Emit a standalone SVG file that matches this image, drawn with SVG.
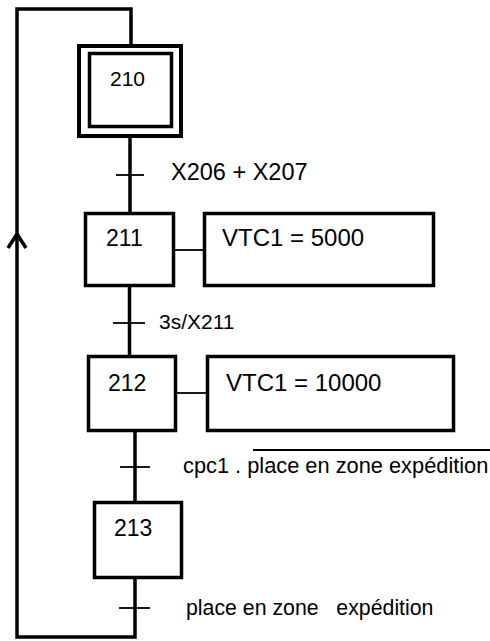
<svg xmlns="http://www.w3.org/2000/svg" width="490" height="641" viewBox="0 0 490 641">
<style>
.box{fill:#fff;stroke:#000;stroke-width:3.5}
.ln{fill:none;stroke:#000;stroke-width:3.5}
.tk{fill:none;stroke:#000;stroke-width:1.8}
.t{font-family:"Liberation Sans",Arial,sans-serif;font-size:23px;fill:#000}
</style>
<rect width="490" height="641" fill="#fff"/>
<g id="connectors">
<path class="ln" d="M131 45 V9 H17 V637 H135 V578"/>
<path class="ln" d="M8 248 L17 234 L26 248"/>
<line class="ln" x1="130" y1="137" x2="130" y2="213"/>
<line class="ln" x1="129.5" y1="286" x2="129.5" y2="356"/>
<line class="ln" x1="135" y1="431" x2="135" y2="502"/>
<line class="tk" x1="116" y1="175" x2="144" y2="175"/>
<line class="tk" x1="113" y1="323" x2="145" y2="323"/>
<line class="tk" x1="120" y1="467" x2="150" y2="467"/>
<line class="tk" x1="119" y1="608" x2="150" y2="608"/>
<line class="tk" x1="175" y1="250" x2="204" y2="250"/>
<line class="tk" x1="177" y1="393" x2="207" y2="393"/>
<line class="tk" x1="253" y1="450" x2="490" y2="450"/>
</g>
<g id="step210">
<rect x="79" y="46" width="102" height="90" fill="#fff" stroke="#000" stroke-width="4"/>
<rect x="89.5" y="53.5" width="82" height="73" class="box"/>
<text class="t" x="110" y="86" style="font-size:21px">210</text>
</g>
<g id="t1"><text class="t" x="171" y="180" style="font-size:23.5px">X206 + X207</text></g>
<g id="step211">
<rect x="85.5" y="213.5" width="88" height="72" class="box"/>
<text class="t" x="106" y="246">211</text>
</g>
<g id="action211">
<rect x="204.5" y="213.5" width="229" height="72" class="box"/>
<text class="t" x="222" y="246" style="font-size:24px">VTC1 = 5000</text>
</g>
<g id="t2"><text class="t" x="159" y="329" style="font-size:21px">3s/X211</text></g>
<g id="step212">
<rect x="88.5" y="356.5" width="87" height="74" class="box"/>
<text class="t" x="108" y="391">212</text>
</g>
<g id="action212">
<rect x="207.5" y="356.5" width="246" height="74" class="box"/>
<text class="t" x="226" y="391" style="font-size:24px">VTC1 = 10000</text>
</g>
<g id="t3"><text class="t" x="183" y="473" style="font-size:21.8px">cpc1 . place en zone expédition</text></g>
<g id="step213">
<rect x="94.5" y="502.5" width="87" height="75" class="box"/>
<text class="t" x="114" y="536">213</text>
</g>
<g id="t4"><text class="t" x="186" y="615" style="font-size:21.3px;white-space:pre" xml:space="preserve">place en zone   expédition</text></g>
</svg>
